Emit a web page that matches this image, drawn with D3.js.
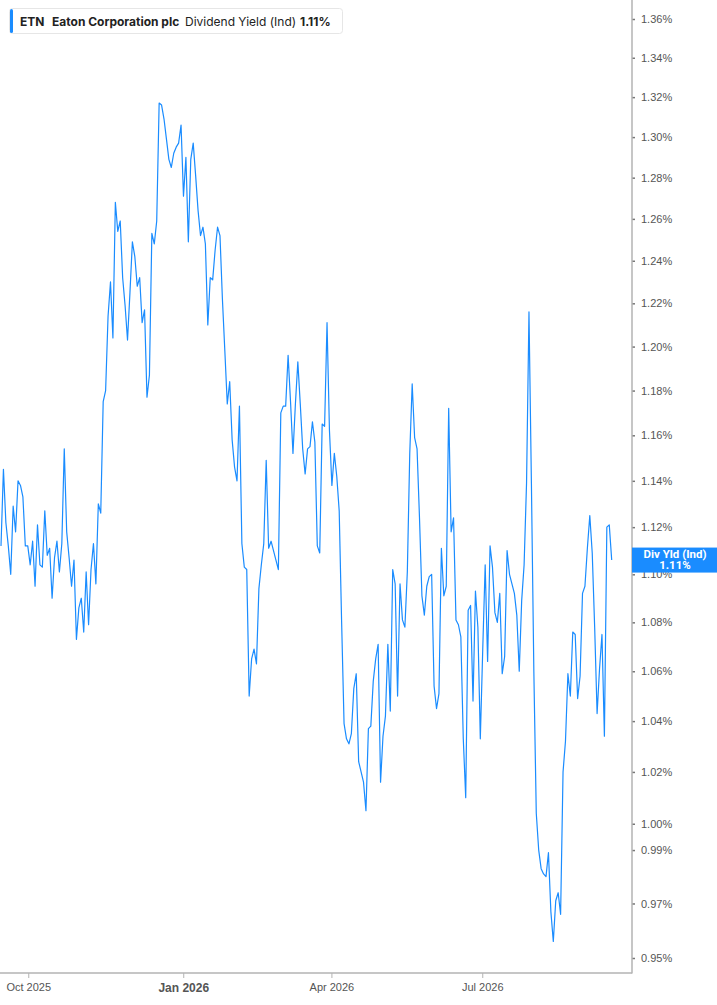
<!DOCTYPE html>
<html>
<head>
<meta charset="utf-8">
<script src="https://cdn.jsdelivr.net/npm/d3@7"></script>
<style>
body { margin:0; background:#fff; }
svg { display:block; font-family: Roboto, "Liberation Sans", sans-serif; }
</style>
</head>
<body>
<script>
var svgWidth = 717;
var svgHeight = 1005;

// daily dividend yield (%), one value per trading day, 15 Sep 2025 .. 15 Sep 2026
var yieldValues = [
1.112,1.145,1.122,1.112,1.100,1.129,1.118,1.140,1.138,1.133,
1.112,1.112,1.104,1.114,1.095,1.121,1.104,1.103,1.127,1.108,
1.111,1.090,1.107,1.114,1.101,1.113,1.154,1.118,1.107,1.095,
1.106,1.073,1.086,1.090,1.076,1.101,1.079,1.102,1.113,1.096,
1.130,1.126,1.175,1.180,1.214,1.230,1.204,1.268,1.254,1.259,
1.232,1.219,1.203,1.225,1.249,1.242,1.228,1.232,1.211,1.217,
1.177,1.187,1.253,1.248,1.259,1.317,1.316,1.309,1.299,1.289,
1.285,1.292,1.295,1.297,1.306,1.271,1.290,1.249,1.289,1.297,
1.281,1.264,1.252,1.256,1.248,1.210,1.232,1.231,1.245,1.256,
1.252,1.222,1.198,1.174,1.184,1.158,1.146,1.140,1.173,1.113,
1.103,1.102,1.050,1.065,1.069,1.063,1.094,1.104,1.113,1.149,
1.111,1.114,1.110,1.106,1.102,1.170,1.173,1.173,1.196,1.175,
1.152,1.174,1.193,1.174,1.154,1.143,1.154,1.155,1.166,1.157,
1.112,1.109,1.165,1.164,1.211,1.162,1.138,1.152,1.142,1.127,
1.080,1.039,1.033,1.031,1.035,1.053,1.059,1.024,1.020,1.016,
1.005,1.037,1.038,1.056,1.065,1.071,1.016,1.034,1.042,1.071,
1.044,1.102,1.096,1.050,1.096,1.081,1.078,1.101,1.152,1.183,
1.159,1.154,1.124,1.091,1.083,1.095,1.099,1.100,1.054,1.045,
1.051,1.111,1.091,1.095,1.172,1.118,1.124,1.081,1.079,1.074,
1.033,1.010,1.085,1.087,1.048,1.093,1.078,1.033,1.069,1.104,
1.064,1.112,1.103,1.084,1.080,1.092,1.059,1.066,1.110,1.100,
1.096,1.092,1.083,1.060,1.089,1.104,1.139,1.216,1.139,1.060,
1.004,0.990,0.983,0.981,0.980,0.989,0.967,0.956,0.971,0.974,
0.966,1.020,1.032,1.059,1.050,1.076,1.075,1.049,1.058,1.092,
1.095,1.111,1.125,1.109,1.078,1.043,1.061,1.075,1.034,1.120,
1.121,1.106
];

// y axis ticks (%)
var yTicks = [1.36,1.34,1.32,1.30,1.28,1.26,1.24,1.22,1.20,1.18,1.16,1.14,1.12,1.10,1.08,1.06,1.04,1.02,1.00,0.99,0.97,0.95];
// x axis ticks: trading-day index of month start, label
var xTickIdx = [11.2, 74.9, 135.8, 197.8];
var xTickLabels = ["Oct 2025", "Jan 2026", "Apr 2026", "Jul 2026"];

var ticker = "ETN";
var company = "Eaton Corporation plc";
var metric = "Dividend Yield (Ind)";
var lastLabel = "1.11%";

var lineColor = "#1a8cff";
var axisX = 632, axisY = 973;

var svg = d3.select("body").append("svg").attr("width", svgWidth).attr("height", svgHeight);

var x = d3.scaleLinear().domain([0, yieldValues.length - 1]).range([1, 611.7]);
var y = d3.scaleLog().domain([0.95, 1.36]).range([958, 19]);

svg.append("clipPath").attr("id", "plot").append("rect")
  .attr("x", 0).attr("y", 0).attr("width", axisX).attr("height", axisY);

var line = d3.line().x((d, i) => x(i)).y(d => y(d));
svg.append("path").datum(yieldValues).attr("clip-path", "url(#plot)")
  .attr("fill", "none").attr("stroke", lineColor).attr("stroke-width", 1.2)
  .attr("stroke-linejoin", "round").attr("d", line);

// right axis
var yAxis = d3.axisRight(y).tickValues(yTicks).tickSize(3).tickPadding(6)
  .tickFormat(d => d.toFixed(2) + "%");
var gy = svg.append("g").attr("transform", `translate(${axisX}, 0)`).call(yAxis);
gy.select(".domain").remove();
gy.selectAll(".tick line").attr("stroke", "#777").attr("stroke-width", 1.5);
gy.selectAll(".tick text").attr("fill", "#555").attr("font-size", "11px");
svg.append("line").attr("x1", axisX).attr("x2", axisX).attr("y1", 0).attr("y2", axisY + 0.5)
  .attr("stroke", "#b3b3b3").attr("stroke-width", 1.5);

// bottom axis
var xAxis = d3.axisBottom(x).tickValues(xTickIdx).tickSize(5).tickPadding(5)
  .tickFormat((d, i) => xTickLabels[i]);
var gx = svg.append("g").attr("transform", `translate(0, ${axisY})`).call(xAxis);
gx.select(".domain").remove();
gx.selectAll(".tick line").attr("stroke", "#b3b3b3");
gx.selectAll(".tick text").attr("fill", "#555").attr("font-size", "11px")
  .attr("font-weight", (d, i) => xTickLabels[i].indexOf("Jan") == 0 ? "bold" : "normal")
  .attr("font-size", (d, i) => xTickLabels[i].indexOf("Jan") == 0 ? "12px" : "11px");
svg.append("line").attr("x1", 0).attr("x2", axisX).attr("y1", axisY).attr("y2", axisY)
  .attr("stroke", "#b3b3b3").attr("stroke-width", 1.5);

// last value tag
var lastY = y(yieldValues[yieldValues.length - 1]);
svg.append("rect").attr("x", axisX).attr("y", lastY - 12.5).attr("width", svgWidth - axisX).attr("height", 25)
  .attr("fill", lineColor);
svg.append("text").attr("x", 675).attr("y", lastY - 2.5).attr("text-anchor", "middle")
  .attr("fill", "#fff").attr("font-weight", "bold").attr("font-size", "11.5px").text("Div Yld (Ind)");
svg.append("text").attr("x", 675).attr("y", lastY + 8.5).attr("text-anchor", "middle")
  .attr("fill", "#fff").attr("font-weight", "bold").attr("font-size", "11.5px").text(lastLabel);

// legend
var legend = svg.append("g").style("font-family", "Inter, Roboto, sans-serif");
legend.append("rect").attr("x", 9.5).attr("y", 8.5).attr("width", 333).attr("height", 25).attr("rx", 3)
  .attr("fill", "#fff").attr("stroke", "#e6e6e6");
legend.append("rect").attr("x", 10).attr("y", 9).attr("width", 3).attr("height", 24).attr("rx", 1.5)
  .attr("fill", lineColor);
var legendText = [
  {t: ticker, x: 20, w: "bold"},
  {t: company, x: 52, w: "bold"},
  {t: metric, x: 185, w: "normal"},
  {t: lastLabel, x: 300, w: "bold"}
];
legend.selectAll(".lt").data(legendText).enter().append("text").attr("class", "lt")
  .attr("x", d => d.x).attr("y", 25.5).attr("font-size", "12px").attr("fill", "#222")
  .attr("font-weight", d => d.w).text(d => d.t);
</script>
</body>
</html>
